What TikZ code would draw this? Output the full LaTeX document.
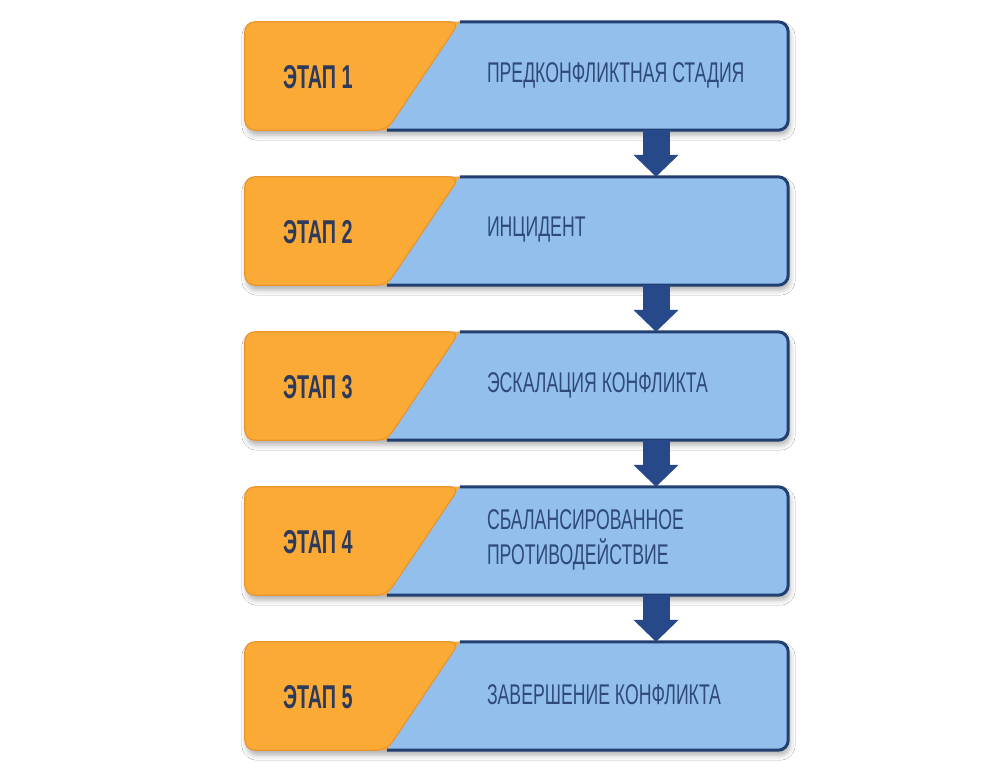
\documentclass[tikz,border=0pt]{standalone}
\usepackage{fontspec}
\newfontfamily\stagefont[FakeStretch=0.6]{Liberation Sans}
\newfontfamily\namefont[FakeStretch=0.62]{Liberation Sans}
\usepackage{tikz}
\usetikzlibrary{positioning,calc,arrows.meta,shadows.blur}
\usepackage{xcolor}
\definecolor{stageorange}{HTML}{FBAB35}
\definecolor{orangeedge}{HTML}{E8952E}
\definecolor{stageblue}{HTML}{92BFEC}
\definecolor{boxline}{HTML}{213F70}
\definecolor{arrowblue}{HTML}{27498A}
\definecolor{labelnavy}{HTML}{2E3A5C}
\definecolor{namenavy}{HTML}{2F4A7A}

\begin{document}
\begin{tikzpicture}[x=1pt, y=-1pt,
    stagebox/.style={minimum width=543pt, minimum height=108pt, inner sep=0pt},
    stagelabel/.style={anchor=west, inner sep=0pt, text=labelnavy,
        font={\stagefont\bfseries\fontsize{33}{38}\selectfont}},
    stagename/.style={anchor=west, inner sep=0pt, text=namenavy, align=left,
        font={\namefont\fontsize{28.5}{35}\selectfont}},
    flowarrow/.style={arrowblue, line width=27pt, -{Triangle[width=44pt,length=22pt]}}]

    % canvas
    \useasboundingbox[fill=white] (0,0) rectangle (1000,776);
    \coordinate (ax) at (656,0);

    % stages
    \foreach \i/\name in {1/ПРЕДКОНФЛИКТНАЯ СТАДИЯ, 2/ИНЦИДЕНТ, 3/ЭСКАЛАЦИЯ КОНФЛИКТА,
        4/{СБАЛАНСИРОВАННОЕ\\ПРОТИВОДЕЙСТВИЕ}, 5/ЗАВЕРШЕНИЕ КОНФЛИКТА} {
        \node[stagebox] (b\i) at (516.5,{76+155*(\i-1)}) {};
        \coordinate (dt\i) at ($(b\i.north west)+(215,0)$);
        \coordinate (db\i) at ($(b\i.south west)+(142,0)$);
        \path[rounded corners=10pt, blur shadow={shadow xshift=2pt, shadow yshift=-5pt,
            shadow blur radius=5pt, shadow opacity=30}] (b\i.south west) rectangle (b\i.north east);
        \begin{scope}
            \clip[rounded corners=10pt] (b\i.south west) rectangle (b\i.north east);
            \fill[stageblue] (b\i.south west) rectangle (b\i.north east);
            \fill[stageorange] (b\i.north west) -- (dt\i) -- (db\i) -- (b\i.south west) -- cycle;
        \end{scope}
        \draw[orangeedge, line width=1.2pt, rounded corners=10pt]
            (dt\i) -- (b\i.north west) -- (b\i.south west) -- (db\i) -- cycle;
        \draw[boxline, line width=3pt, rounded corners=10pt]
            (dt\i) -- (b\i.north east) -- (b\i.south east) -- (db\i);
        \node[stagelabel] (s\i) at ($(b\i.west)+(38,1)$) {ЭТАП \i};
        \node[stagename] (t\i) at ($(b\i.west)+(242,-1)$) {\name};
    }

    % arrows between stages
    \foreach \i [evaluate=\i as \j using int(\i+1)] in {1,...,4}
        \draw[flowarrow] (b\i.south -| ax) -- (b\j.north -| ax);
\end{tikzpicture}
\end{document}
